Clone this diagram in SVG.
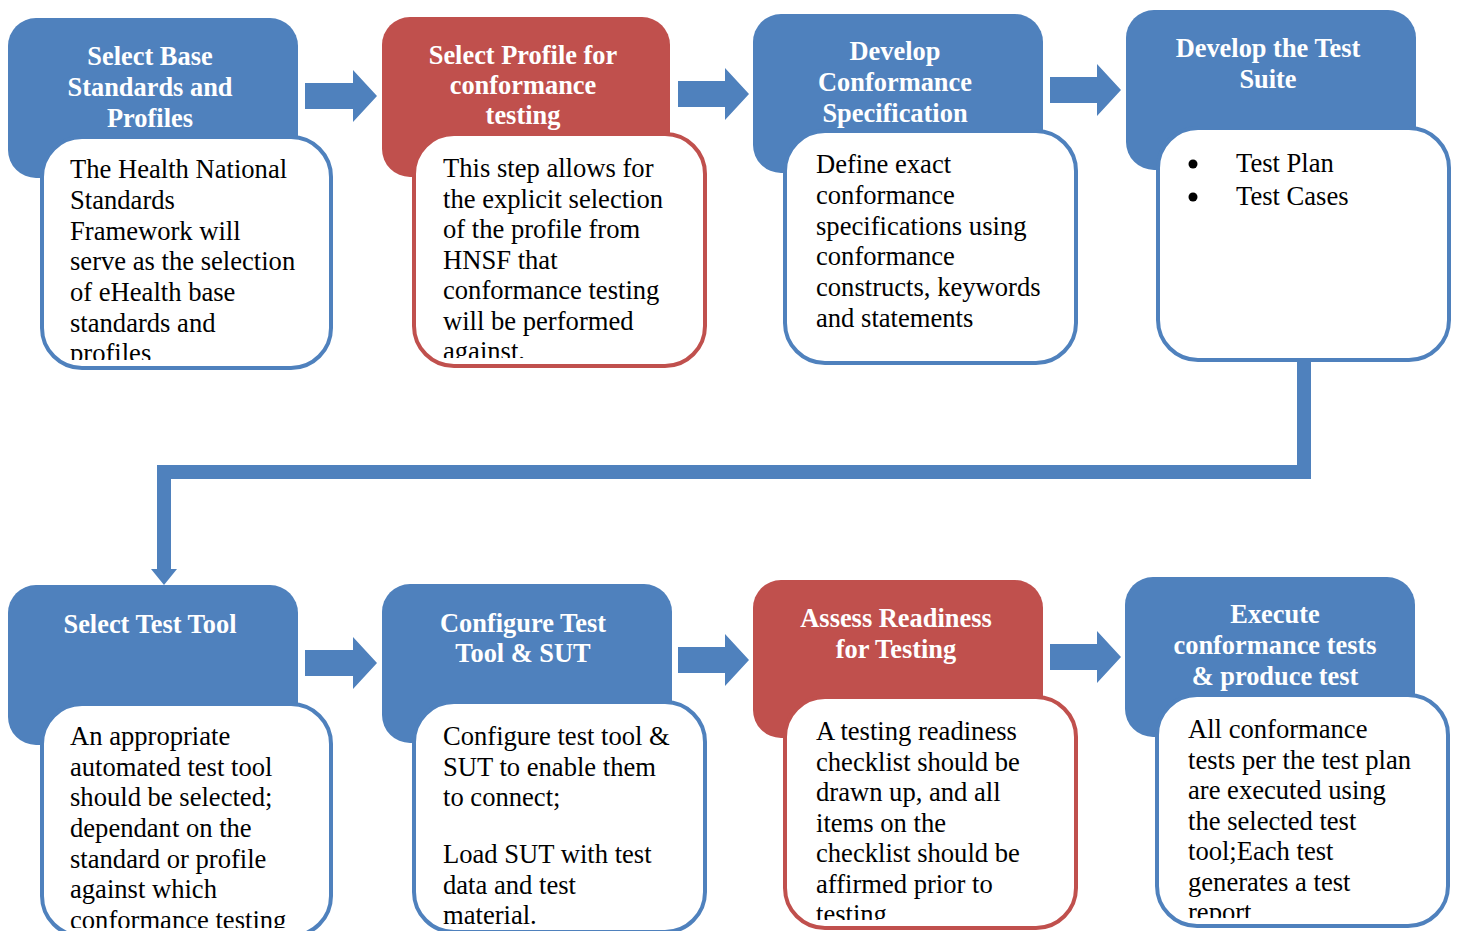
<svg xmlns="http://www.w3.org/2000/svg" width="1458" height="931" viewBox="0 0 1458 931">
<style>
.hb{fill:#4F81BD}
.hr{fill:#C0504D}
.bb{fill:#fff;stroke:#4F81BD;stroke-width:4}
.br{fill:#fff;stroke:#C0504D;stroke-width:4}
.ht{font-family:"Liberation Serif",serif;font-weight:bold;font-size:26.4px;fill:#fff;text-anchor:middle}
.bt{font-family:"Liberation Serif",serif;font-size:26.6px;fill:#000}
.arr{fill:#4F81BD}
</style>
<defs>
<clipPath id="c1"><rect x="40" y="135" width="293" height="225"/></clipPath>
<clipPath id="c2"><rect x="412" y="132" width="295" height="226"/></clipPath>
<clipPath id="c5"><rect x="40" y="702" width="293" height="226"/></clipPath>
<clipPath id="c7"><rect x="783" y="695" width="295" height="225"/></clipPath>
<clipPath id="c8"><rect x="1155" y="693" width="295" height="225"/></clipPath>
</defs>
<rect width="1458" height="931" fill="#fff"/>

<g id="connectors">
<polygon class="arr" points="305,83 353,83 353,70 377,96 353,122 353,109 305,109"/>
<polygon class="arr" points="678,81 725,81 725,68 749,94 725,120 725,107 678,107"/>
<polygon class="arr" points="1050,77 1097,77 1097,64 1121,90 1097,116 1097,103 1050,103"/>
<polygon class="arr" points="305,650 353,650 353,637 377,663 353,689 353,676 305,676"/>
<polygon class="arr" points="678,647 725,647 725,634 749,660 725,686 725,673 678,673"/>
<polygon class="arr" points="1050,644 1097,644 1097,631 1121,657 1097,683 1097,670 1050,670"/>
<path d="M1304,362 V472 H164 V570" fill="none" stroke="#4F81BD" stroke-width="14"/>
<polygon class="arr" points="151,569 177,569 164,585"/>
</g>

<g id="node1">
<rect class="hb" x="8" y="18" width="290" height="160" rx="28"/>
<text class="ht" x="150" y="65">Select Base</text>
<text class="ht" x="150" y="96">Standards and</text>
<text class="ht" x="150" y="127">Profiles</text>
<rect class="bb" x="42" y="137" width="289" height="231" rx="40"/>
<g class="bt" clip-path="url(#c1)">
<text x="70" y="178">The Health National</text>
<text x="70" y="209">Standards</text>
<text x="70" y="240">Framework will</text>
<text x="70" y="270">serve as the selection</text>
<text x="70" y="301">of eHealth base</text>
<text x="70" y="332">standards and</text>
<text x="70" y="362">profiles</text>
</g>
</g>

<g id="node2">
<rect class="hr" x="382" y="17" width="288" height="160" rx="28"/>
<text class="ht" x="523" y="64">Select Profile for</text>
<text class="ht" x="523" y="94">conformance</text>
<text class="ht" x="523" y="124">testing</text>
<rect class="br" x="414" y="134" width="291" height="232" rx="40"/>
<g class="bt" clip-path="url(#c2)">
<text x="443" y="177">This step allows for</text>
<text x="443" y="207.5">the explicit selection</text>
<text x="443" y="238">of the profile from</text>
<text x="443" y="268.5">HNSF that</text>
<text x="443" y="299">conformance testing</text>
<text x="443" y="329.5">will be performed</text>
<text x="443" y="360">against.</text>
</g>
</g>

<g id="node3">
<rect class="hb" x="753" y="14" width="290" height="159" rx="28"/>
<text class="ht" x="895" y="60">Develop</text>
<text class="ht" x="895" y="91">Conformance</text>
<text class="ht" x="895" y="122">Specification</text>
<rect class="bb" x="785" y="131" width="291" height="232" rx="40"/>
<g class="bt">
<text x="816" y="173">Define exact</text>
<text x="816" y="204">conformance</text>
<text x="816" y="235">specifications using</text>
<text x="816" y="265">conformance</text>
<text x="816" y="296">constructs, keywords</text>
<text x="816" y="327">and statements</text>
</g>
</g>

<g id="node4">
<rect class="hb" x="1126" y="10" width="290" height="160" rx="28"/>
<text class="ht" x="1268" y="57">Develop the Test</text>
<text class="ht" x="1268" y="88">Suite</text>
<rect class="bb" x="1158" y="128" width="291" height="232" rx="40"/>
<circle cx="1193" cy="164" r="4.5" fill="#000"/>
<circle cx="1193" cy="197" r="4.5" fill="#000"/>
<g class="bt">
<text x="1236" y="172">Test Plan</text>
<text x="1236" y="205">Test Cases</text>
</g>
</g>

<g id="node5">
<rect class="hb" x="8" y="585" width="290" height="160" rx="28"/>
<text class="ht" x="150" y="633">Select Test Tool</text>
<rect class="bb" x="42" y="704" width="289" height="232" rx="40"/>
<g class="bt" clip-path="url(#c5)">
<text x="70" y="745">An appropriate</text>
<text x="70" y="776">automated test tool</text>
<text x="70" y="806">should be selected;</text>
<text x="70" y="837">dependant on the</text>
<text x="70" y="868">standard or profile</text>
<text x="70" y="898">against which</text>
<text x="70" y="929">conformance testing</text>
</g>
</g>

<g id="node6">
<rect class="hb" x="382" y="584" width="290" height="159" rx="28"/>
<text class="ht" x="523" y="632">Configure Test</text>
<text class="ht" x="523" y="662">Tool &amp; SUT</text>
<rect class="bb" x="414" y="702" width="291" height="230" rx="40"/>
<g class="bt">
<text x="443" y="745">Configure test tool &amp;</text>
<text x="443" y="775.5">SUT to enable them</text>
<text x="443" y="806">to connect;</text>
<text x="443" y="863">Load SUT with test</text>
<text x="443" y="893.5">data and test</text>
<text x="443" y="924">material.</text>
</g>
</g>

<g id="node7">
<rect class="hr" x="753" y="580" width="290" height="158" rx="28"/>
<text class="ht" x="896" y="627">Assess Readiness</text>
<text class="ht" x="896" y="658">for Testing</text>
<rect class="br" x="785" y="697" width="291" height="231" rx="40"/>
<g class="bt" clip-path="url(#c7)">
<text x="816" y="740">A testing readiness</text>
<text x="816" y="770.5">checklist should be</text>
<text x="816" y="801">drawn up, and all</text>
<text x="816" y="831.5">items on the</text>
<text x="816" y="862">checklist should be</text>
<text x="816" y="892.5">affirmed prior to</text>
<text x="816" y="923">testing</text>
</g>
</g>

<g id="node8">
<rect class="hb" x="1125" y="577" width="290" height="160" rx="28"/>
<text class="ht" x="1275" y="623">Execute</text>
<text class="ht" x="1275" y="654">conformance tests</text>
<text class="ht" x="1275" y="685">&amp; produce test</text>
<rect class="bb" x="1157" y="695" width="291" height="231" rx="40"/>
<g class="bt" clip-path="url(#c8)">
<text x="1188" y="738">All conformance</text>
<text x="1188" y="768.5">tests per the test plan</text>
<text x="1188" y="799">are executed using</text>
<text x="1188" y="829.5">the selected test</text>
<text x="1188" y="860">tool;Each test</text>
<text x="1188" y="890.5">generates a test</text>
<text x="1188" y="921">report</text>
</g>
</g>
</svg>
